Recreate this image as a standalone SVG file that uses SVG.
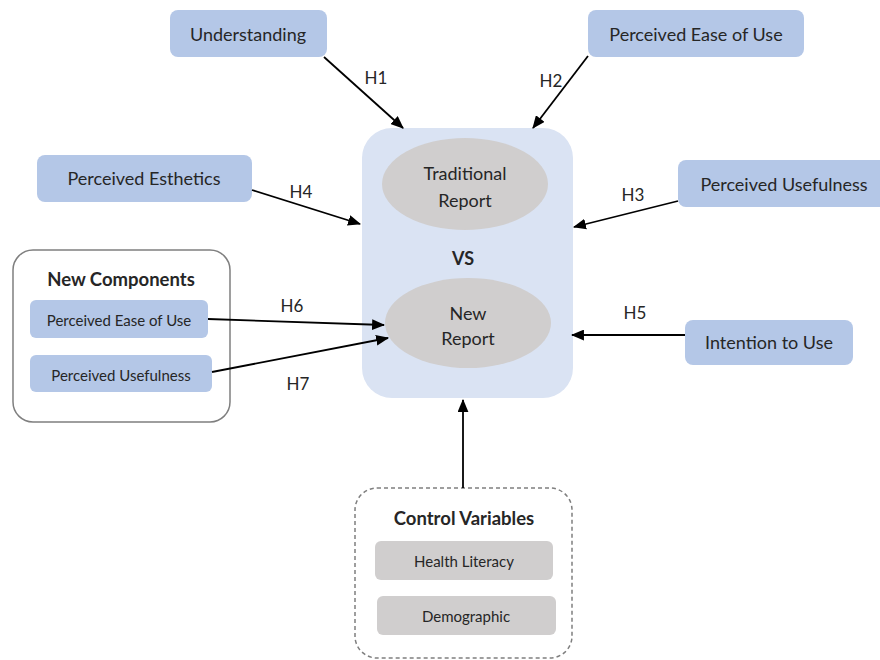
<svg xmlns="http://www.w3.org/2000/svg" width="880" height="660" viewBox="0 0 880 660">
<defs>
<marker id="ah" viewBox="0 0 12 10" refX="11" refY="5" markerWidth="13" markerHeight="11" orient="auto" markerUnits="userSpaceOnUse">
<path d="M0,0 L12,5 L0,10 z" fill="#000"/>
</marker>
<style>
text{font-family:Lato,"Liberation Sans",sans-serif;fill:#262626;text-anchor:middle;dominant-baseline:central}
.n{fill:#b4c7e7}
.t{font-size:18px}
.s{font-size:15px}
.b{font-weight:bold}
.g{fill:#d0cece}
.c{stroke:#000;stroke-width:1.8;fill:none;marker-end:url(#ah)}
.h{font-size:17px}
</style>
</defs>
<rect width="880" height="660" fill="#fff"/>
<g id="central">
<rect x="362" y="128" width="211" height="270" rx="30" fill="#dae3f3"/>
<text x="463" y="258" class="b" style="font-size:18px">VS</text>
</g>
<g id="traditional">
<ellipse cx="465" cy="184" rx="83" ry="46" class="g"/>
<text x="465" y="173" class="t">Traditional</text>
<text x="465" y="200" class="t">Report</text>
</g>
<g id="newreport">
<ellipse cx="468" cy="323" rx="83" ry="45" class="g"/>
<text x="468" y="313" class="t">New</text>
<text x="468" y="338" class="t">Report</text>
</g>
<g id="understanding">
<rect x="170" y="10" width="157" height="47" rx="8" class="n"/>
<text x="248" y="34" class="t">Understanding</text>
</g>
<g id="peou">
<rect x="588" y="10" width="216" height="47" rx="8" class="n"/>
<text x="696" y="34" class="t">Perceived Ease of Use</text>
</g>
<g id="esthetics">
<rect x="37" y="155" width="215" height="47" rx="8" class="n"/>
<text x="144" y="178" class="t">Perceived Esthetics</text>
</g>
<g id="pu">
<rect x="678" y="160" width="215" height="47" rx="8" class="n"/>
<text x="784" y="184" class="t">Perceived Usefulness</text>
</g>
<g id="intention">
<rect x="685" y="320" width="168" height="45" rx="8" class="n"/>
<text x="769" y="342" class="t">Intention to Use</text>
</g>
<g id="newcomponents">
<rect x="13" y="250" width="217" height="172" rx="20" fill="#fff" stroke="#7f7f7f" stroke-width="1.5"/>
<text x="121" y="279" class="b" style="font-size:18.5px">New Components</text>
</g>
<g id="nc-peou">
<rect x="30" y="300" width="178" height="38" rx="6" class="n"/>
<text x="119" y="320" class="s">Perceived Ease of Use</text>
</g>
<g id="nc-pu">
<rect x="30" y="355" width="182" height="37" rx="6" class="n"/>
<text x="121" y="375" class="s">Perceived Usefulness</text>
</g>
<g id="control">
<rect x="355" y="488" width="217" height="170" rx="22" fill="#fff" stroke="#7f7f7f" stroke-width="1.5" stroke-dasharray="4,3"/>
<text x="464" y="518" class="b" style="font-size:18.5px">Control Variables</text>
</g>
<g id="health">
<rect x="375" y="541" width="178" height="39" rx="6" class="g"/>
<text x="464" y="561" class="s">Health Literacy</text>
</g>
<g id="demographic">
<rect x="377" y="596" width="179" height="39" rx="6" class="g"/>
<text x="466" y="616" class="s">Demographic</text>
</g>
<g id="connectors">
<line x1="324" y1="57" x2="403" y2="128" class="c"/>
<line x1="588" y1="56" x2="533" y2="128" class="c"/>
<line x1="252" y1="190" x2="360" y2="224" class="c"/>
<line x1="678" y1="201" x2="574" y2="227" class="c"/>
<line x1="208" y1="319" x2="384" y2="325" class="c"/>
<line x1="212" y1="372" x2="388" y2="338" class="c"/>
<line x1="685" y1="335" x2="572" y2="335" class="c"/>
<line x1="463" y1="488" x2="463" y2="400" class="c"/>
<text x="376" y="77" class="h">H1</text>
<text x="551" y="80" class="h">H2</text>
<text x="633" y="194" class="h">H3</text>
<text x="301" y="191" class="h">H4</text>
<text x="635" y="312" class="h">H5</text>
<text x="292" y="305" class="h">H6</text>
<text x="298" y="383" class="h">H7</text>
</g>
</svg>
